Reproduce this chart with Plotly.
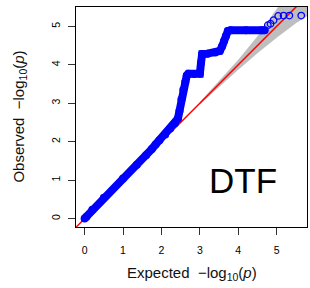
import plotly.graph_objects as go

# ---- data ----
# dense part of the QQ curve (expected, observed)
dense_expected = [0.0, 0.05, 0.2, 0.5, 1.0, 1.36, 1.6, 1.75, 1.85, 1.95, 2.1, 2.23, 2.35, 2.43,
                  2.47, 2.52, 2.57, 2.62, 2.66, 2.7, 2.85, 3.0, 3.03, 3.06, 3.2, 3.4, 3.52,
                  3.58, 3.63, 3.68, 3.73, 3.8, 4.2, 4.6, 4.69]
dense_observed = [0.0, 0.05, 0.23, 0.54, 1.04, 1.4, 1.65, 1.81, 1.93, 2.04, 2.19, 2.34, 2.48, 2.6,
                  2.8, 3.1, 3.35, 3.55, 3.72, 3.77, 3.76, 3.77, 4.05, 4.28, 4.29, 4.32, 4.36,
                  4.48, 4.62, 4.75, 4.88, 4.9, 4.9, 4.9, 4.9]
# sparse top points
top_expected = [4.77, 4.84, 4.92, 5.04, 5.18, 5.33, 5.64]
top_observed = [5.03, 5.07, 5.16, 5.27, 5.28, 5.28, 5.28]
# confidence band
band_x = [3.0, 3.5, 4.0, 4.5, 5.0, 5.5, 5.85]
band_hi = [3.03, 3.57, 4.13, 4.74, 5.45, 6.25, 6.8]
band_lo = [2.97, 3.42, 3.87, 4.3, 4.7, 5.08, 5.3]
# reference line y = x
ref_x = [-0.5, 6.5]
ref_y = [-0.5, 6.5]

x_ticks = [0, 1, 2, 3, 4, 5]
y_ticks = [0, 1, 2, 3, 4, 5]

BLUE = "#0000FF"
FONT = "Liberation Sans, Arial, Helvetica, sans-serif"

fig = go.Figure()
fig.add_trace(go.Scatter(
    x=band_x + band_x[::-1], y=band_hi + band_lo[::-1],
    fill="toself", fillcolor="#BEBEBE", line=dict(width=0), mode="lines",
    hoverinfo="skip", showlegend=False))
fig.add_trace(go.Scatter(
    x=ref_x, y=ref_y, mode="lines", line=dict(color="#FF0000", width=1.5),
    showlegend=False))
fig.add_trace(go.Scatter(
    x=dense_expected, y=dense_observed, mode="lines+markers",
    line=dict(color=BLUE, width=8),
    marker=dict(symbol="circle", size=8, color=BLUE, line=dict(width=0)),
    showlegend=False))
fig.add_trace(go.Scatter(
    x=top_expected, y=top_observed, mode="markers",
    marker=dict(symbol="circle-open", size=6.5, color=BLUE, line=dict(width=1.3)),
    showlegend=False))

axis_common = dict(
    showgrid=False, zeroline=False, showline=True, mirror=True,
    linecolor="black", linewidth=1, ticks="outside", ticklen=7, tickwidth=1,
    tickcolor="#333333", tickfont=dict(family=FONT, size=10.5, color="black"),
)
fig.update_xaxes(range=[-0.224, 5.79], tickvals=x_ticks, ticklabelstandoff=6, **axis_common)
fig.update_yaxes(range=[-0.219, 5.503], tickvals=y_ticks, tickangle=-90,
                 ticklabelstandoff=4, **axis_common)

fig.add_annotation(text="Expected\u00a0\u00a0\u2212log<sub>10</sub>(<i>p</i>)",
                   xref="paper", yref="paper", x=0.5, y=-0.21, xanchor="center",
                   yanchor="middle", showarrow=False,
                   font=dict(family=FONT, size=15, color="#111111"))
fig.add_annotation(text="Observed\u00a0\u00a0\u2212log<sub>10</sub>(<i>p</i>)",
                   xref="paper", yref="paper", x=-0.2485, y=0.5, xanchor="center",
                   yanchor="middle", textangle=-90, showarrow=False,
                   font=dict(family=FONT, size=15, color="#111111"))
fig.add_annotation(text="DTF", xref="x", yref="y", x=4.12, y=0.98,
                   xanchor="center", yanchor="middle", showarrow=False,
                   font=dict(family=FONT, size=35, color="black"))

fig.update_layout(
    width=310, height=288,
    margin=dict(l=76, r=3, t=7, b=61),
    paper_bgcolor="white", plot_bgcolor="white",
)
fig.write_html("out.html",
               config={"displayModeBar": False},
               post_script="document.body.style.margin='0';document.body.style.padding='0';")
